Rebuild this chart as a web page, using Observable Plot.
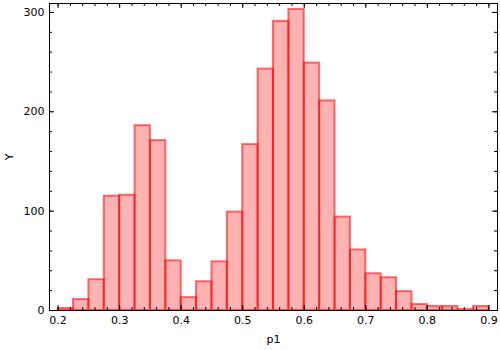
<!DOCTYPE html>
<html><head><meta charset="utf-8">
<script src="https://cdn.jsdelivr.net/npm/d3@7"></script>
<script src="https://cdn.jsdelivr.net/npm/@observablehq/plot@0.6"></script>
<style>body{margin:0;background:#fff} svg{display:block}</style>
</head><body><div id="chart"></div>
<script>
// Histogram bin edges of p1 and counts per bin
const binEdges = [0.2, 0.225, 0.25, 0.275, 0.3, 0.325, 0.35, 0.375, 0.4, 0.425, 0.45, 0.475, 0.5, 0.525, 0.55, 0.575, 0.6, 0.625, 0.65, 0.675, 0.7, 0.725, 0.75, 0.775, 0.8, 0.825, 0.85, 0.875, 0.9];
const counts = [2, 11, 31, 115, 116, 186, 171, 50, 13, 29, 49, 99, 167, 243, 291, 303, 249, 211, 94, 61, 37, 33, 19, 6, 4, 4, 1, 4];

// Tick values
const xMajor = [0.2, 0.3, 0.4, 0.5, 0.6, 0.7, 0.8, 0.9];
const xMinor = [0.2, 0.22, 0.24, 0.26, 0.28, 0.3, 0.32, 0.34, 0.36, 0.38, 0.4, 0.42, 0.44, 0.46, 0.48, 0.5, 0.52, 0.54, 0.56, 0.58, 0.6, 0.62, 0.64, 0.66, 0.68, 0.7, 0.72, 0.74, 0.76, 0.78, 0.8, 0.82, 0.84, 0.86, 0.88, 0.9];
const yMajor = [0, 100, 200, 300];
const yMinor = [0, 20, 40, 60, 80, 100, 120, 140, 160, 180, 200, 220, 240, 260, 280, 300];
const xLabel = "p1";
const yLabel = "Y";

const bins = counts.map((c, i) => ({x1: binEdges[i], x2: binEdges[i + 1], y: c}));

const W = 500, H = 350, mL = 49, mR = 3, mT = 3, mB = 40;
const pw = W - mL - mR, ph = H - mT - mB;
const majorLen = 5, minorLen = 3;

const chart = Plot.plot({
  width: W, height: H,
  marginLeft: mL, marginRight: mR, marginTop: mT, marginBottom: mB,
  style: {fontFamily: "DejaVu Sans", fontSize: "11px", color: "black", background: "white"},
  x: {domain: [0.186, 0.914]},
  y: {domain: [0, 309]},
  marks: [
    Plot.rectY(bins, {x1: "x1", x2: "x2", y: "y", fill: "red", fillOpacity: 0.3, stroke: "red", strokeOpacity: 0.55, strokeWidth: 2}),
    Plot.frame({stroke: "black"}),
    // inward ticks, bottom & top
    Plot.ruleX(xMinor, {x: d => d, insetTop: ph - minorLen, stroke: "black"}),
    Plot.ruleX(xMinor, {x: d => d, insetBottom: ph - minorLen, stroke: "black"}),
    Plot.ruleX(xMajor, {x: d => d, insetTop: ph - majorLen, stroke: "black"}),
    Plot.ruleX(xMajor, {x: d => d, insetBottom: ph - majorLen, stroke: "black"}),
    // inward ticks, left & right
    Plot.ruleY(yMinor, {y: d => d, insetRight: pw - minorLen, stroke: "black"}),
    Plot.ruleY(yMinor, {y: d => d, insetLeft: pw - minorLen, stroke: "black"}),
    Plot.ruleY(yMajor, {y: d => d, insetRight: pw - majorLen, stroke: "black"}),
    Plot.ruleY(yMajor, {y: d => d, insetLeft: pw - majorLen, stroke: "black"}),
    Plot.axisX(xMajor, {tickSize: 0, tickPadding: 6, tickFormat: d3.format(".1f"), label: xLabel, labelAnchor: "center", labelArrow: "none", labelOffset: 32}),
    Plot.axisY(yMajor, {tickSize: 0, tickPadding: 5, tickFormat: d3.format("d"), label: yLabel, labelAnchor: "center", labelArrow: "none", labelOffset: 44})
  ]
});
document.getElementById("chart").appendChild(chart);
</script>
</body></html>
